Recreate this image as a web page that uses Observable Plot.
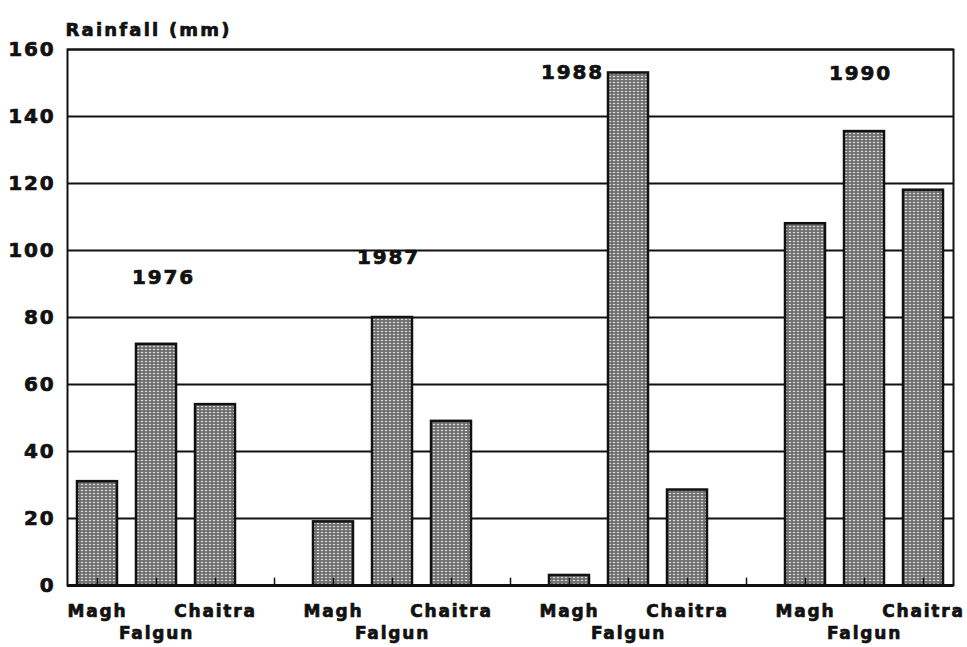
<!DOCTYPE html>
<html>
<head>
<meta charset="utf-8">
<script src="https://cdn.jsdelivr.net/npm/d3@7"></script>
<script src="https://cdn.jsdelivr.net/npm/@observablehq/plot@0.6"></script>
<style>
  html, body { margin: 0; padding: 0; background: #fff; }
  #chart { width: 967px; height: 647px; }
</style>
</head>
<body>
<div id="chart"></div>
<script>
// ---- Data ----
const years = ["1976", "1987", "1988", "1990"];
const months = ["Magh", "Falgun", "Chaitra"];
const rain1976 = [31, 72, 54];
const rain1987 = [19, 80, 49];
const rain1988 = [3, 153, 28.5];
const rain1990 = [108, 135.5, 118];
const yTicks = [0, 20, 40, 60, 80, 100, 120, 140, 160];
// year label anchors (month slot, value height, horizontal nudge)
const yearLabelMonth = ["Falgun", "Falgun", "Magh", "Falgun"];
const yearLabelValue = [92, 98, 153, 152.7];
const yearLabelNudge = [7, -4, 3, -4];

const series = [rain1976, rain1987, rain1988, rain1990];
const data = [];
years.forEach((yr, i) => months.forEach((m, j) => data.push({year: yr, month: m, key: yr + "-" + m, value: series[i][j]})));

// x domain: each year's three months followed by a spacer slot
const domain = [];
years.forEach((yr, i) => {
  months.forEach(m => domain.push(yr + "-" + m));
  if (i < years.length - 1) domain.push("gap-" + yr);
});

const yearLabels = years.map((yr, i) => ({key: yr + "-" + yearLabelMonth[i], value: yearLabelValue[i], text: yr, dx: yearLabelNudge[i]}));

const upperKeys = data.filter(d => d.month !== "Falgun");
const lowerKeys = data.filter(d => d.month === "Falgun");

const font = "DejaVu Sans";
const heavy = {fill: "#111", stroke: "#111", strokeWidth: 0.7};

const chart = Plot.plot({
  width: 967,
  height: 647,
  marginLeft: 67,
  marginRight: 14,
  marginTop: 49,
  marginBottom: 62,
  style: {fontFamily: font, fontWeight: "bold", background: "#fff", color: "#111"},
  x: {type: "band", domain, paddingInner: 0.32, paddingOuter: 0.16, axis: null},
  y: {domain: [0, 160], ticks: yTicks, axis: null},
  marks: [
    Plot.gridY(yTicks, {stroke: "#111", strokeOpacity: 1, strokeWidth: 2}),
    Plot.barY(data, {x: "key", y: "value", fill: "url(#dots)", stroke: "#111", strokeWidth: 2.5}),
    Plot.ruleX(domain, {x: d => d, y1: 0, y2: 2.2, stroke: "#111", strokeWidth: 1.5}),
    Plot.ruleY([0], {stroke: "#111", strokeWidth: 3}),
    Plot.frame({stroke: "#111", strokeWidth: 2}),
    Plot.text(yTicks, {y: d => d, text: d => String(d), frameAnchor: "left", textAnchor: "end", dx: -12, fontSize: 20, ...heavy}),
    Plot.text(upperKeys, {x: "key", text: "month", frameAnchor: "bottom", dy: 31, fontSize: 17, ...heavy}),
    Plot.text(lowerKeys, {x: "key", text: "month", frameAnchor: "bottom", dy: 53, fontSize: 17, ...heavy}),
    ...yearLabels.map(d => Plot.text([d], {x: "key", y: "value", text: "text", dx: d.dx, fontSize: 20, ...heavy})),
    Plot.text(["Rainfall (mm)"], {frameAnchor: "top-left", textAnchor: "start", dx: -2, dy: -26, fontSize: 18, className: "title", ...heavy})
  ]
});

const svg = d3.select(chart);
const defs = svg.insert("defs", ":first-child");
const pat = defs.append("pattern").attr("id", "dots").attr("patternUnits", "userSpaceOnUse").attr("width", 4).attr("height", 3);
pat.append("rect").attr("width", 4).attr("height", 3).attr("fill", "#6e6e6e");
pat.append("ellipse").attr("cx", 2).attr("cy", 1.5).attr("rx", 1.3).attr("ry", 0.8).attr("fill", "#d8d8d8");

svg.selectAll("text").style("letter-spacing", "1.8px");
svg.selectAll(".title text").style("letter-spacing", "2.2px");

document.getElementById("chart").appendChild(chart);
</script>
</body>
</html>
